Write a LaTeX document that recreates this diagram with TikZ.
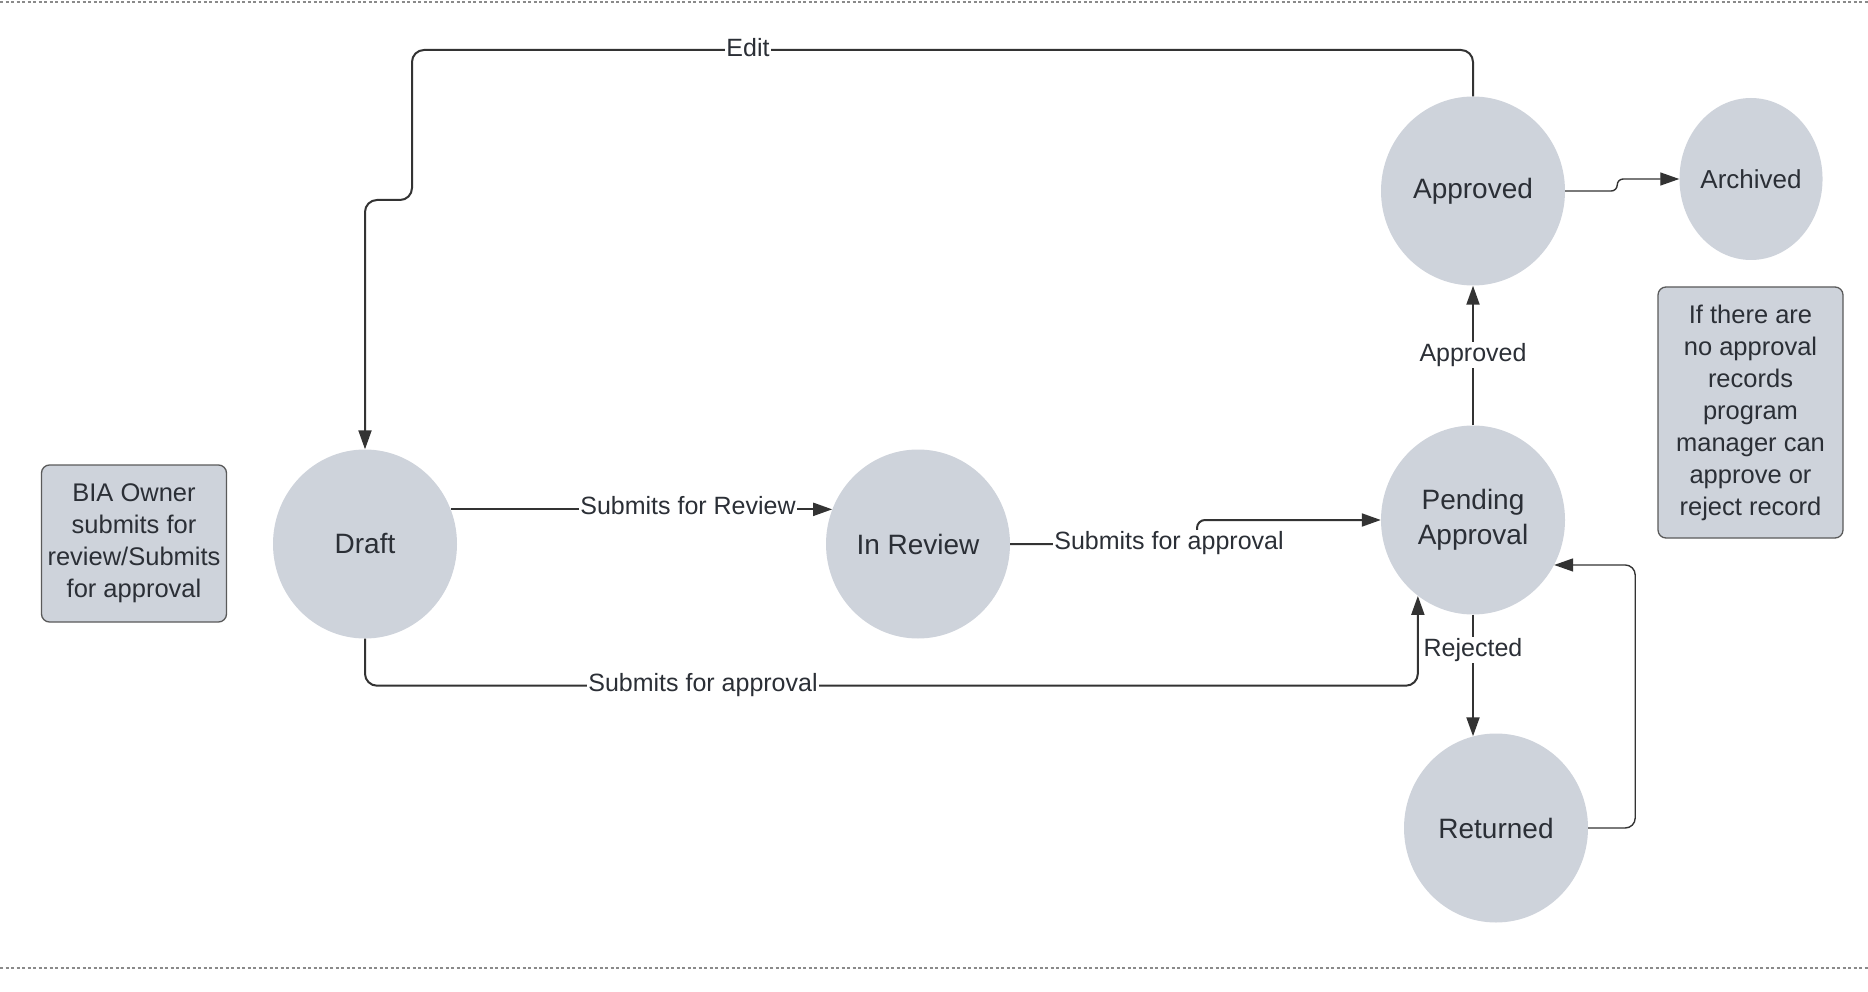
\documentclass[tikz,border=0pt]{standalone}
\usepackage{fontspec}
\setmainfont{Liberation Sans}
\usetikzlibrary{shapes.geometric,arrows.meta,calc}
\definecolor{nodefill}{HTML}{CED3DB}
\definecolor{ink}{HTML}{333333}
\definecolor{txt}{HTML}{2B2F36}
\definecolor{notebd}{HTML}{5A5A5A}
\definecolor{dotc}{HTML}{8A8A8A}
\begin{document}
\begin{tikzpicture}[x=1pt,y=-1pt,
 state/.style={ellipse, fill=nodefill, minimum width=184pt, minimum height=189pt, inner sep=0pt, text=txt, font=\fontsize{28}{34.5}\selectfont, align=center},
 note/.style={rectangle, rounded corners=8pt, draw=notebd, line width=1.3pt, fill=nodefill, text=txt, font=\fontsize{25.5}{32}\selectfont, align=center, inner sep=0pt},
 conn/.style={draw=ink, line width=2pt, -{Triangle[length=19pt,width=13pt]}, rounded corners=12pt},
 thinconn/.style={conn, line width=1.4pt},
 lbl/.style={fill=white, text=txt, font=\fontsize{25}{30}\selectfont, inner sep=1pt},
 dotline/.style={draw=dotc, line width=1.5pt, dash pattern=on 3pt off 2.5pt}]
\useasboundingbox (0,0) rectangle (1868,992);
\draw[dotline] (0,2) -- (1868,2);
\draw[dotline] (0,968) -- (1868,968);

\node[state] (draft) at (365,544) {Draft};
\node[state] (review) at (918,544) {In Review};
\node[state] (pending) at (1473,520) {Pending\\Approval};
\node[state] (approved) at (1473,191) {Approved};
\node[state, minimum width=138pt, minimum height=162pt, font=\fontsize{26}{32}\selectfont] (archived) at (1751,179) {Archived};
\node[state] (returned) at (1496,828) {Returned};
\node[note, minimum width=185pt, minimum height=157pt] (bianote) at (134,543.5) {BIA Owner\\submits for\\review/Submits\\for approval};
\node[note, minimum width=185pt, minimum height=251pt] (pmnote) at (1750.5,412.5) {If there are\\no approval\\records\\program\\manager can\\approve or\\reject record};

\coordinate (e1) at (1473,50);
\coordinate (e2) at (412,50);
\coordinate (e3) at (412,200);
\coordinate (e4) at (365,200);
\draw[conn] (approved.north) -- (e1) -- (e2) -- (e3) -- (e4) -- (draft.north);

\draw[conn] (draft.22) -- (review.158);

\coordinate (r1) at (1197,544);
\coordinate (r2) at (1197,520);
\draw[conn, rounded corners=8pt] (review.east) -- (r1) -- (r2) -- (pending.west);

\draw[conn] (draft.south) -- ++(0,47) -| (pending.234.6);
\draw[conn] (pending.north) -- (approved.south);
\draw[conn] (pending.south) -- (pending.south |- returned.104.2);
\draw[thinconn, rounded corners=6pt] (approved.east) -- ++(52,0) |- (archived.west);
\draw[thinconn, rounded corners=10pt] (returned.east) -- ++(47,0) |- (pending.-29.1);

\node[lbl] (l1) at (688,506) {Submits for Review};
\node[lbl] (l2) at (1169,543) {Submits for approval};
\node[lbl] (l3) at (703,685) {Submits for approval};
\node[lbl] (l4) at (1473,355) {Approved};
\node[lbl] (l5) at (1473,650) {Rejected};
\node[lbl] (l6) at (748,48) {Edit};
\end{tikzpicture}
\end{document}
